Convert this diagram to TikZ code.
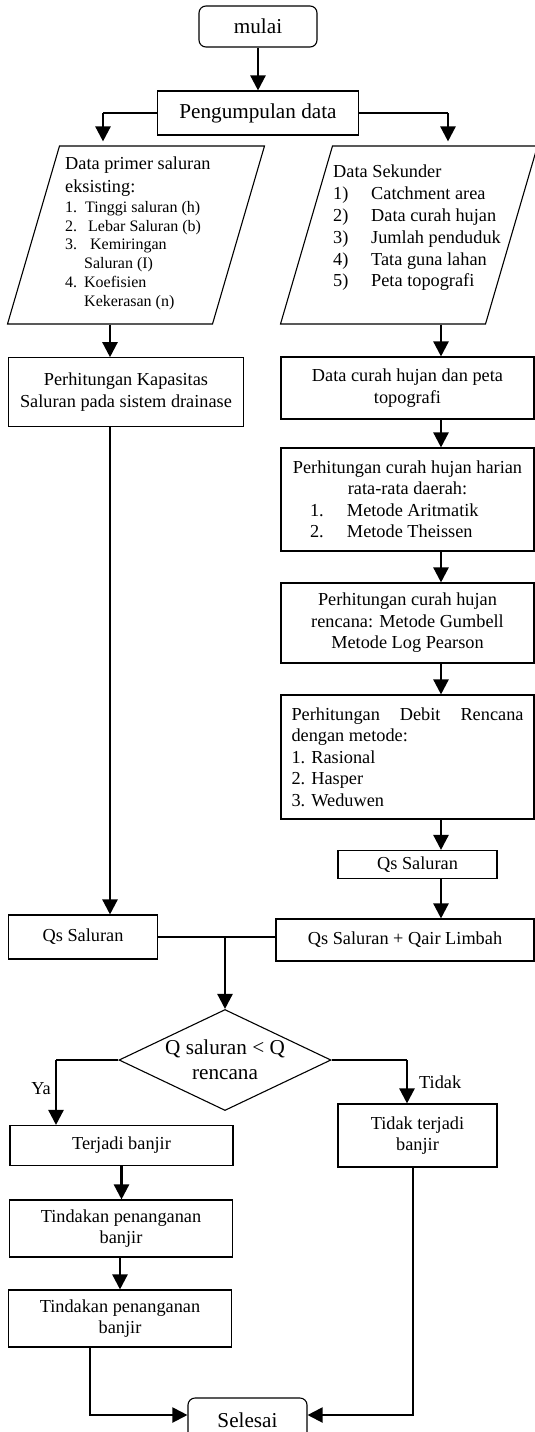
\documentclass[tikz,border=0pt]{standalone}
\usepackage{fontspec}
\setmainfont{Liberation Serif}
\usetikzlibrary{arrows.meta}
\usetikzlibrary{shapes.geometric}
\usetikzlibrary{positioning}

\newcommand{\txtmain}{\fontsize{18.3}{21.5}\selectfont}
\newcommand{\txtbig}{\fontsize{21.2}{25}\selectfont}
\newcommand{\txtsmall}{\fontsize{16}{18.8}\selectfont}

\tikzset{
  box/.style={draw, line width=1.1pt, rectangle, inner sep=0pt, align=center, font=\txtmain},
  term/.style={box, rounded corners=7pt, font=\txtbig},
  para/.style={draw, line width=1.1pt, rectangle, transform shape, minimum width=205pt, minimum height=178pt, inner sep=0pt},
  decision/.style={draw, line width=1.1pt, diamond, aspect=2.1, inner sep=0pt, font=\txtbig, align=center},
  flow/.style={line width=2.4pt, -{Triangle[width=15pt,length=15pt]}},
  link/.style={line width=1.2pt},
  lbl/.style={font=\txtmain, inner sep=0pt},
}

\begin{document}
\begin{tikzpicture}[x=1pt, y=-1pt]
\clip (0,0) rectangle (535,1432);
% start
\node[term, minimum width=118pt, minimum height=41pt] (mulai) at (258,26.5) {mulai};
\node[box, font=\txtbig, minimum width=201pt, minimum height=44pt] (peng) at (258,113) {Pengumpulan data};
% data input
\begin{scope}[shift={(136,235)}, xslant=0.292]
  \node[para] (prim) at (0,0) {};
\end{scope}
\begin{scope}[shift={(409,235)}, xslant=0.292]
  \node[para] (sek) at (0,0) {};
\end{scope}
\node[lbl, align=left, anchor=north west, font={\fontsize{18.3}{23}\selectfont}] (primtxt) at (65,157) {Data primer saluran\\eksisting:};
\node[lbl, align=left, anchor=north west, font=\txtsmall] (primlist) at (65,201) {\makebox[20pt][l]{1.}Tinggi saluran (h)\\ \makebox[23pt][l]{2.}Lebar Saluran (b)\\ \makebox[25pt][l]{3.}Kemiringan\\ \hspace*{19pt}Saluran (I)\\ \makebox[19pt][l]{4.}Koefisien\\ \hspace*{19pt}Kekerasan (n)};
\node[lbl, align=left, anchor=north west, font={\fontsize{18.3}{21.8}\selectfont}] (sektxt) at (333,165) {Data Sekunder\\ \makebox[38pt][l]{1)}Catchment area\\ \makebox[38pt][l]{2)}Data curah hujan\\ \makebox[38pt][l]{3)}Jumlah penduduk\\ \makebox[38pt][l]{4)}Tata guna lahan\\ \makebox[38pt][l]{5)}Peta topografi};
% left column
\node[box, minimum width=234.5pt, minimum height=68.5pt] (kap) at (126,392) {Perhitungan Kapasitas\\Saluran pada sistem drainase};
% right column
\node[box, minimum width=253pt, minimum height=62pt] (curah) at (407.5,388) {Data curah hujan dan peta\\topografi};
\node[box, minimum width=253pt, minimum height=103pt] (harian) at (407.5,499.5) {Perhitungan curah hujan harian\\rata-rata daerah:\\ \makebox[195pt][l]{\makebox[37pt][l]{1.}Metode Aritmatik}\\ \makebox[195pt][l]{\makebox[37pt][l]{2.}Metode Theissen}};
\node[box, minimum width=253pt, minimum height=80pt] (rencana) at (407.5,623) {Perhitungan curah hujan\\rencana: Metode Gumbell\\Metode Log Pearson};
\node[box, minimum width=253pt, minimum height=124pt, text width=232pt, align=justify] (debit) at (407.5,757) {Perhitungan Debit Rencana \mbox{dengan} metode:\\1. Rasional\\2. Hasper\\3. Weduwen};
\node[box, minimum width=159pt, minimum height=28pt] (qs2) at (417.5,864.5) {Qs Saluran};
% merge
\node[box, minimum width=149pt, minimum height=44pt] (qs1) at (83,937) {Qs Saluran};
\node[box, minimum width=258pt, minimum height=42pt] (qsq) at (405,940) {Qs Saluran + Qair Limbah};
\node[decision, minimum width=212pt, minimum height=101pt] (dec) at (225,1060) {Q saluran < Q\\rencana};
% result
\node[box, minimum width=223pt, minimum height=40pt] (banjir) at (121.5,1145.5) {Terjadi banjir};
\node[box, minimum width=159pt, minimum height=63pt] (tidak) at (417.5,1135.5) {Tidak terjadi\\banjir};
\node[box, minimum width=223.5pt, minimum height=57pt] (tind1) at (121,1228.5) {Tindakan penanganan\\banjir};
\node[box, minimum width=223.5pt, minimum height=57pt] (tind2) at (120,1318.5) {Tindakan penanganan\\banjir};
\node[term, minimum width=119pt, minimum height=44pt] (selesai) at (247.5,1420) {Selesai};
\node[lbl, anchor=east] (ya) at (51,1089) {Ya};
\node[lbl, anchor=west] (tdk) at (419,1082) {Tidak};

% arrows
\coordinate (colL) at (110,0);
\coordinate (colR) at (441,0);
\coordinate (pengL) at (103,113);
\coordinate (pengR) at (448,113);
\draw[flow] (mulai) -- (peng);
\draw[link] (peng.west) -- (pengL);
\draw[link] (peng.east) -- (pengR);
\draw[flow, shorten >=4pt] (pengL) -- (pengL |- prim.north);
\draw[flow, shorten >=4pt] (pengR) -- (pengR |- sek.north);
\draw[flow] (prim.south -| colL) -- (kap.north -| colL);
\draw[flow] (sek.south -| colR) -- (curah.north -| colR);
\foreach \a/\b in {curah/harian, harian/rencana, rencana/debit, debit/qs2, qs2/qsq}
  \draw[flow] (\a.south -| colR) -- (\b.north -| colR);
\draw[flow] (kap.south -| colL) -- (qs1.north -| colL);
\coordinate (join) at (225,937);
\draw[link] (qs1.east) -- (qs1.east -| qsq.west);
\draw[flow] (join) -- (dec.north);
\coordinate (yaL) at (56,1060);
\coordinate (tdR) at (407,1060);
\draw[link] (dec.west) -- (yaL);
\draw[flow] (yaL) -- (yaL |- banjir.north);
\draw[link] (dec.east) -- (tdR);
\draw[flow] (tdR) -- (tdR |- tidak.north);
\draw[flow] (banjir.south) -- (banjir.south |- tind1.north);
\draw[flow] (tind1.south -| tind2.north) -- (tind2.north);
\coordinate (endL) at (90,1415);
\coordinate (endR) at (413,1415);
\draw[link] (tind2.south -| endL) -- ([yshift=-0.8pt]endL);
\draw[flow, line width=2pt] (endL) -- (endL -| selesai.west);
\draw[link] (tidak.south -| endR) -- ([yshift=-0.8pt]endR);
\draw[flow, line width=2pt] (endR) -- (endR -| selesai.east);
\end{tikzpicture}
\end{document}
